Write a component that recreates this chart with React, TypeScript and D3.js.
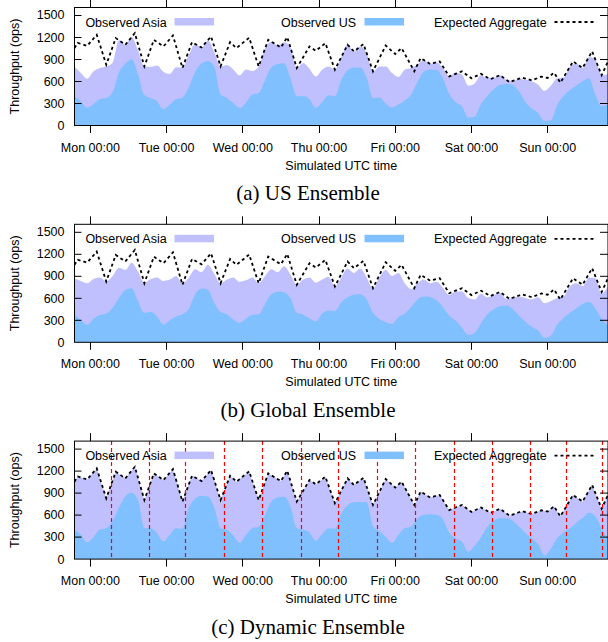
import * as d3 from "d3";
import React, { useRef, useEffect } from "react";

const width = 608,
  height = 642;

// plot frame of one panel (panels repeat every panelStep px)
const frame = { left: 74.5, right: 608, top: 7.5, bottom: 125.5 };
const panelStep = 216.8;

const sans = "'Liberation Sans', Arial, Helvetica, sans-serif";
const serif = "'Liberation Serif', 'Times New Roman', serif";
const asiaColor = "#c0c0ff";
const usColor = "#80c0ff";

// hours since Mon 00:00 UTC
const hourStart = -5,
  hourEnd = 163;
const hoursFine = d3.range(hourStart, hourEnd + 1, 1); // expected aggregate, 1h
const hoursCoarse = d3.range(hourStart, hourEnd + 1, 2); // observed, 2h

const dayTicks = [0, 24, 48, 72, 96, 120, 144];
const dayLabels = ["Mon 00:00", "Tue 00:00", "Wed 00:00", "Thu 00:00", "Fri 00:00", "Sat 00:00", "Sun 00:00"];
const yTicks = [0, 300, 600, 900, 1200, 1500];
const legendLabels = ["Observed Asia", "Observed US", "Expected Aggregate"];

// Expected aggregate (same in all three plots), hourly from -5h
const expected = [
  1050, 1120, 1107, 1093, 1080,
  1130, 1180, 1230, 1095, 959, 824, 944, 1065, 1185, 1155, 1125, 1095, 1147, 1200, 1252, 1102, 952, 801, 921, 1042, 1162, 1132, 1102, 1072,
  1121, 1171, 1220, 1073, 927, 780, 897, 1013, 1130, 1106, 1082, 1058, 1108, 1157, 1207, 1072, 936, 801, 911, 1020, 1130, 1090, 1050, 1085,
  1120, 1155, 1190, 1060, 930, 801, 921, 1042, 1162, 1136, 1110, 1084, 1058, 1128, 1198, 1059, 919, 780, 853, 926, 999, 1072, 1043, 1013,
  1048, 1082, 1117, 997, 877, 757, 842, 926, 1011, 1095, 1050, 1005, 1038, 1071, 1104, 981, 857, 734, 822, 910, 997, 1085, 1046, 1008,
  969, 1010, 1050, 971, 892, 813, 734, 825, 915, 888, 862, 835, 846, 858, 869, 801, 733, 665, 682, 700, 717, 734, 703, 671,
  640, 660, 680, 700, 676, 652, 628, 646, 665, 683, 651, 620, 588, 604, 619, 635, 650, 637, 625, 612, 629, 645, 662, 654,
  645, 681, 716, 648, 580, 652, 725, 797, 869, 839, 810, 780, 855, 930, 1005, 897, 790, 682, 776, 870,
];

// (a) US Ensemble, every 2h from -5h
const usA = [
  396, 330, 240,
  290, 360, 374, 450, 720, 840, 900, 700, 410, 372, 329, 220,
  284, 355, 380, 520, 730, 840, 875, 800, 420, 374, 306, 240,
  310, 419, 440, 620, 790, 835, 845, 640, 396, 400, 360, 239,
  320, 410, 396, 620, 750, 785, 788, 650, 374, 380, 300, 245,
  284, 340, 420, 590, 730, 757, 757, 640, 430, 320, 261, 110,
  120, 290, 400, 490, 554, 563, 550, 460, 320, 230, 170, 60,
  70, 280, 400, 480, 540, 600, 640, 420, 260, 284,
];
const asiaTopA = [
  801, 712, 635,
  734, 780, 801, 850, 1155, 1095, 1200, 1020, 801, 795, 815, 730,
  700, 790, 785, 960, 1106, 1058, 1157, 1000, 801, 820, 760, 680,
  760, 740, 801, 1042, 1136, 1084, 1128, 1059, 780, 847, 770, 666,
  757, 801, 757, 926, 1095, 1005, 1071, 981, 734, 801, 801, 712,
  660, 757, 780, 825, 888, 835, 858, 780, 665, 720, 690, 540,
  570, 680, 640, 646, 683, 620, 604, 635, 620, 600, 554, 470,
  540, 640, 652, 797, 839, 780, 930, 897, 682, 700,
];

// (b) Global Ensemble
const usB = [
  372, 304, 236,
  320, 370, 390, 470, 600, 710, 734, 560, 400, 415, 350, 240,
  300, 350, 380, 450, 650, 730, 711, 540, 410, 380, 310, 265,
  320, 372, 380, 520, 650, 685, 680, 600, 400, 375, 326, 281,
  390, 430, 425, 540, 610, 645, 650, 580, 400, 320, 275, 250,
  340, 390, 480, 580, 620, 615, 570, 480, 360, 295, 200, 100,
  130, 260, 380, 445, 490, 500, 450, 360, 280, 210, 160, 60,
  90, 240, 330, 400, 460, 520, 550, 460, 320, 230,
];
const asiaTopB = [
  870, 830, 800,
  860, 880, 830, 900, 1010, 980, 1080, 960, 810, 860, 880, 830,
  850, 900, 800, 880, 990, 950, 1050, 930, 800, 850, 880, 820,
  840, 880, 800, 900, 990, 950, 1030, 920, 780, 850, 880, 810,
  850, 890, 760, 880, 1000, 940, 1000, 880, 730, 880, 980, 900,
  940, 800, 720, 800, 850, 800, 820, 740, 640, 690, 690, 600,
  580, 660, 610, 640, 670, 590, 600, 620, 600, 580, 610, 530,
  560, 600, 620, 760, 800, 760, 880, 870, 660, 760,
];

// (c) Dynamic Ensemble: observed total follows the expected aggregate
const usC = [
  398, 330, 230,
  300, 400, 420, 520, 700, 850, 900, 800, 420, 420, 350, 240,
  330, 420, 412, 700, 820, 860, 850, 700, 420, 398, 320, 220,
  330, 420, 440, 600, 780, 835, 846, 720, 420, 400, 360, 250,
  340, 420, 412, 620, 730, 770, 775, 770, 450, 380, 300, 220,
  330, 420, 440, 550, 600, 609, 600, 540, 360, 280, 235, 100,
  180, 300, 440, 520, 555, 550, 520, 440, 354, 280, 200, 50,
  140, 285, 360, 420, 490, 560, 630, 580, 420, 260,
];
const asiaTopC = expected;
// reconfiguration times (hours) marked in red
const reconfigC = [6.7, 18.5, 30.1, 42.3, 54.2, 66.4, 78.1, 90.3, 102.4, 114.6, 126.6, 138.6, 149.8, 161.4];

const panels = [
  { caption: "(a) US Ensemble", us: usA, top: asiaTopA, topHours: hoursCoarse, marks: [] as number[] },
  { caption: "(b) Global Ensemble", us: usB, top: asiaTopB, topHours: hoursCoarse, marks: [] as number[] },
  { caption: "(c) Dynamic Ensemble", us: usC, top: asiaTopC, topHours: hoursFine, marks: reconfigC },
];

// legend layout: right end of text, sample start
const legendTextEnd = [166.7, 356, 546.6];
const legendSampleX = [174.5, 364.5, 554.5];
const legendSampleW = 39.5;

function Chart() {
  const ref = useRef(null);

  useEffect(() => {
    const svg = d3.select(ref.current);
    svg.selectAll("*").remove();
    draw(svg);
  }, []);

  const draw = (svg: any) => {
    svg.append("rect").attr("width", width).attr("height", height).attr("fill", "#fff");

    var x = d3.scaleLinear().domain([hourStart, hourEnd]).range([frame.left, frame.right]);
    var y = d3.scaleLinear().domain([0, 1600]).range([frame.bottom, frame.top]);
    const px = (h: number) => Math.floor(x(h)) + 0.5;

    panels.forEach((p, i) => {
      const g = svg.append("g").attr("transform", `translate(0,${i * panelStep})`);

      // stacked areas: total (Asia on top) then US
      const areaTop = d3
        .area<number>()
        .x((d, j) => x(p.topHours[j]))
        .y0(y(0))
        .y1((d) => y(d))
        .curve(p.topHours === hoursFine ? d3.curveLinear : d3.curveMonotoneX);
      g.append("path").datum(p.top).attr("d", areaTop).attr("fill", asiaColor);

      const areaUs = d3
        .area<number>()
        .x((d, j) => x(hoursCoarse[j]))
        .y0(y(0))
        .y1((d) => y(d))
        .curve(d3.curveMonotoneX);
      g.append("path").datum(p.us).attr("d", areaUs).attr("fill", usColor);

      // expected aggregate
      const line = d3
        .line<number>()
        .x((d, j) => x(hoursFine[j]))
        .y((d) => y(d));
      g.append("path")
        .datum(expected)
        .attr("d", line)
        .attr("fill", "none")
        .attr("stroke", "#000")
        .attr("stroke-width", 1.8)
        .attr("stroke-dasharray", "3,3");

      // reconfiguration markers
      p.marks.forEach((h) => {
        g.append("line")
          .attr("x1", px(h))
          .attr("x2", px(h))
          .attr("y1", frame.top)
          .attr("y2", frame.bottom)
          .attr("stroke", "#ff0000")
          .attr("stroke-width", 1.2)
          .attr("stroke-dasharray", "4,3");
      });

      // frame
      g.append("rect")
        .attr("x", frame.left)
        .attr("y", frame.top)
        .attr("width", frame.right - frame.left)
        .attr("height", frame.bottom - frame.top)
        .attr("fill", "none")
        .attr("stroke", "#000")
        .attr("stroke-width", 1);

      // y ticks (inward, mirrored)
      yTicks.forEach((t) => {
        const yy = Math.round(y(t)) + 0.5;
        if (t > 0) {
          g.append("line").attr("x1", frame.left).attr("x2", frame.left + 7).attr("y1", yy).attr("y2", yy).attr("stroke", "#000");
          g.append("line").attr("x1", frame.right).attr("x2", frame.right - 8).attr("y1", yy).attr("y2", yy).attr("stroke", "#000");
        }
        g.append("text")
          .attr("x", 64.5)
          .attr("y", y(t))
          .attr("dy", "0.36em")
          .attr("text-anchor", "end")
          .style("font-family", sans)
          .style("font-size", "12.5px")
          .text(t);
      });

      // x ticks (outward, mirrored)
      dayTicks.forEach((h, k) => {
        const xx = px(h);
        g.append("line").attr("x1", xx).attr("x2", xx).attr("y1", frame.bottom).attr("y2", frame.bottom + 7.5).attr("stroke", "#000");
        g.append("line").attr("x1", xx).attr("x2", xx).attr("y1", frame.top).attr("y2", frame.top - 8).attr("stroke", "#000");
        g.append("text")
          .attr("x", x(h))
          .attr("y", frame.bottom + 26)
          .attr("text-anchor", "middle")
          .style("font-family", sans)
          .style("font-size", "12.5px")
          .text(dayLabels[k]);
      });

      // legend
      legendLabels.forEach((label, k) => {
        g.append("text")
          .attr("x", legendTextEnd[k])
          .attr("y", 26.5)
          .attr("text-anchor", "end")
          .style("font-family", sans)
          .style("font-size", "12.5px")
          .text(label);
        if (k < 2) {
          g.append("rect")
            .attr("x", legendSampleX[k])
            .attr("y", 18)
            .attr("width", legendSampleW)
            .attr("height", 7.5)
            .attr("fill", k === 0 ? asiaColor : usColor);
        } else {
          g.append("line")
            .attr("x1", legendSampleX[k])
            .attr("x2", legendSampleX[k] + legendSampleW)
            .attr("y1", 22)
            .attr("y2", 22)
            .attr("stroke", "#000")
            .attr("stroke-width", 1.8)
            .attr("stroke-dasharray", "3,3");
        }
      });

      // axis titles
      g.append("text")
        .attr("transform", `translate(19,${(frame.top + frame.bottom) / 2}) rotate(-90)`)
        .attr("text-anchor", "middle")
        .style("font-family", sans)
        .style("font-size", "12.5px")
        .text("Throughput (ops)");
      g.append("text")
        .attr("x", (frame.left + frame.right) / 2)
        .attr("y", frame.bottom + 44)
        .attr("text-anchor", "middle")
        .style("font-family", sans)
        .style("font-size", "12.5px")
        .text("Simulated UTC time");

      // caption
      g.append("text")
        .attr("x", 308)
        .attr("y", 200)
        .attr("text-anchor", "middle")
        .style("font-family", serif)
        .style("font-size", "21px")
        .text(p.caption);
    });
  };

  return (
    <svg
      ref={ref}
      width={width}
      height={height}
      style={{ position: "absolute", left: 0, top: 0, display: "block" }}
    ></svg>
  );
}

export default function App() {
  return <Chart />;
}
